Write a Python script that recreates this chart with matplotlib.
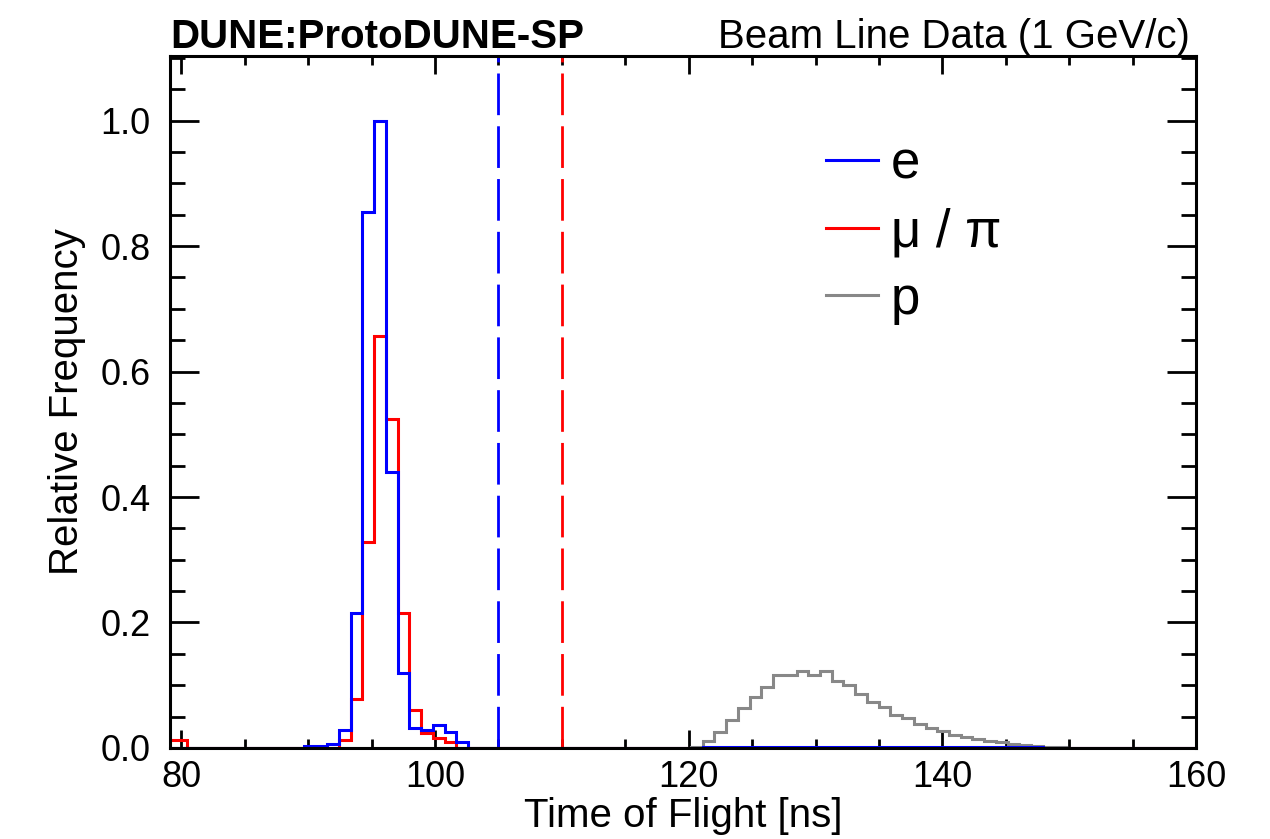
import numpy as np
import matplotlib
matplotlib.use("Agg")
import matplotlib.pyplot as plt
from matplotlib.lines import Line2D
from matplotlib.ticker import MultipleLocator, FormatStrFormatter

plt.rcParams['font.family'] = ['Liberation Sans', 'DejaVu Sans']

# ---- data (relative frequency per time-of-flight bin) ----
BIN_START = 78.55      # ns, lower edge of first bin
BIN_WIDTH = 0.925      # ns
N_BINS = 90

# electron (blue): first bin index, values
e_first = 12
e_values = [0.003, 0.003, 0.006, 0.028, 0.215, 0.855, 1.0, 0.44, 0.12,
            0.032, 0.028, 0.037, 0.025, 0.009]
e_tail_first = 46
e_tail_values = [0.002] * 29

# muon / pion (red)
mupi_first = 0
mupi_values = [0.012, 0.012]
mupi_peak_first = 15
mupi_peak_values = [0.012, 0.078, 0.328, 0.656, 0.524, 0.215, 0.06,
                    0.024, 0.016, 0.01]

# proton (grey)
p_first = 45
p_values = [0.002, 0.011, 0.025, 0.044, 0.063, 0.081, 0.097, 0.116, 0.117,
            0.122, 0.116, 0.122, 0.107, 0.100, 0.086, 0.073, 0.065, 0.053,
            0.047, 0.039, 0.032, 0.027, 0.021, 0.017, 0.014, 0.011, 0.009,
            0.007, 0.005, 0.003, 0.002, 0.001]

e_cut = 105.0
mupi_cut = 110.0

legend_labels = ["e", "\u03bc / \u03c0", "p"]
x_label = "Time of Flight [ns]"
y_label = "Relative Frequency"
title_left = "DUNE:ProtoDUNE-SP"
title_right = "Beam Line Data (1 GeV/c)"


def fill(parts):
    arr = np.zeros(N_BINS)
    for first, vals in parts:
        arr[first:first + len(vals)] = vals
    return arr


edges = BIN_START + BIN_WIDTH * np.arange(N_BINS + 1)
e_hist = fill([(e_first, e_values), (e_tail_first, e_tail_values)])
mupi_hist = fill([(mupi_first, mupi_values), (mupi_peak_first, mupi_peak_values)])
p_hist = fill([(p_first, p_values)])

BLUE = "#0000ff"
RED = "#ff0000"
GREY = "#888888"

fig = plt.figure(figsize=(12.70, 8.39), dpi=100)
ax = fig.add_axes([0.1339, 0.1085, 0.9417 - 0.1339, 0.9333 - 0.1085])

lw = 2.2
ax.stairs(mupi_hist, edges, color=RED, lw=lw, zorder=2)
ax.stairs(p_hist, edges, color=GREY, lw=lw, zorder=2)
ax.stairs(e_hist, edges, color=BLUE, lw=lw, zorder=3)

ax.axvline(e_cut, color=BLUE, lw=2.0, ls=(0, (15, 4)), zorder=2)
ax.axvline(mupi_cut, color=RED, lw=2.0, ls=(0, (15, 4)), zorder=2)

ax.set_xlim(79.1, 160)
ax.set_ylim(0, 1.103)

for s in ax.spines.values():
    s.set_linewidth(2.2)
    s.set_zorder(5)

ax.xaxis.set_major_locator(MultipleLocator(20))
ax.xaxis.set_minor_locator(MultipleLocator(5))
ax.yaxis.set_major_locator(MultipleLocator(0.2))
ax.yaxis.set_minor_locator(MultipleLocator(0.05))
ax.tick_params(axis='x', which='major', direction='in', length=13, width=2,
               top=True, labelsize=26, pad=9)
ax.tick_params(axis='x', which='minor', direction='in', length=6.5, width=2,
               top=True)
ax.tick_params(axis='y', which='major', direction='in', length=21, width=2,
               right=True, labelsize=26, pad=14)
ax.tick_params(axis='y', which='minor', direction='in', length=11, width=2,
               right=True)
ax.yaxis.set_major_formatter(FormatStrFormatter('%.1f'))

ax.set_xlabel(x_label, fontsize=29)
ax.xaxis.set_label_coords(0.5, -0.071)
ax.set_ylabel(y_label, fontsize=29)
ax.yaxis.set_label_coords(-0.082, 0.5)

fig.text(0.1339, 0.9428, title_left, fontsize=29, fontweight='bold',
         ha='left', va='baseline')
fig.text(0.937, 0.9428, title_right, fontsize=29, ha='right', va='baseline')

handles = [Line2D([], [], color=BLUE, lw=2.2),
           Line2D([], [], color=RED, lw=2.2),
           Line2D([], [], color=GREY, lw=2.2)]
ax.legend(handles, legend_labels, loc='upper left',
          bbox_to_anchor=(0.639, 0.879), frameon=False, fontsize=38,
          handlelength=1.0, handletextpad=0.23, labelspacing=0.33,
          borderpad=0, borderaxespad=0)

fig.savefig("out.png", dpi=100)
